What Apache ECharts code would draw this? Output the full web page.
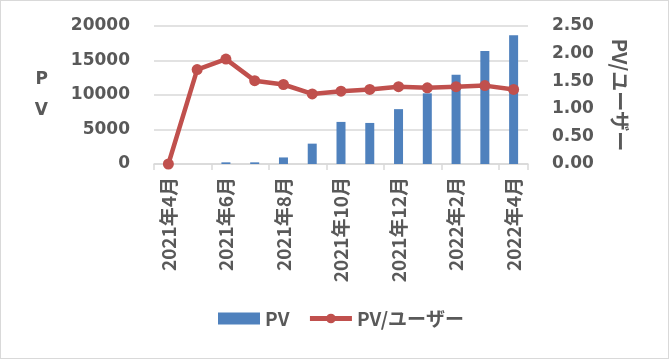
<!DOCTYPE html>
<html><head><meta charset="utf-8">
<script src="https://cdn.jsdelivr.net/npm/echarts@6/dist/echarts.min.js"></script>
<style>html,body{margin:0;padding:0;background:#fff}#c{width:669px;height:359px;box-sizing:border-box;border:1px solid #d9d9d9}</style>
</head><body><div id="c"></div>
<script>
const categories = ['2021年4月','2021年5月','2021年6月','2021年7月','2021年8月','2021年9月','2021年10月','2021年11月','2021年12月','2022年1月','2022年2月','2022年3月','2022年4月'];
const pvValues = [0, 0, 240, 240, 950, 2950, 6100, 5950, 7950, 10240, 12950, 16380, 18670];
const pvPerUser = [0, 1.71, 1.90, 1.51, 1.44, 1.27, 1.32, 1.35, 1.40, 1.38, 1.40, 1.42, 1.35];
const leftTicks = [0, 5000, 10000, 15000, 20000];
const rightTicks = [0, 0.5, 1, 1.5, 2, 2.5];

const txt = '#595959';
const cjk = '"Noto Sans CJK JP", "Noto Sans", sans-serif';
const num = '"DejaVu Sans", "Noto Sans CJK JP", sans-serif';
const chart = echarts.init(document.getElementById('c'));
chart.setOption({
  animation: false,
  textStyle: {fontFamily: cjk},
  grid: {left: 153, right: 140, top: 25, bottom: 194},
  legend: {
    bottom: 25, left: 212, itemGap: 18, itemWidth: 42, itemHeight: 12,
    textStyle: {color: txt, fontSize: 19, fontWeight: 'bold', fontFamily: cjk},
    data: [{name: 'PV', icon: 'rect'}, {name: 'PV/ユーザー', lineStyle: {width: 5}}]
  },
  xAxis: {
    type: 'category', data: categories, boundaryGap: true,
    axisLine: {lineStyle: {color: '#d9d9d9', width: 1.5}},
    axisTick: {show: true, interval: 1, length: 6, lineStyle: {color: '#d9d9d9', width: 1.5}},
    axisLabel: {interval: 1, rotate: 90, color: txt, fontSize: 19, fontWeight: 'bold', margin: 13, fontFamily: cjk}
  },
  yAxis: [{
    type: 'value', min: leftTicks[0], max: leftTicks[leftTicks.length-1], interval: 5000,
    name: 'P\nV', nameLocation: 'middle', nameRotate: 0, nameGap: 106,
    nameTextStyle: {color: txt, fontSize: 17, fontWeight: 'bold', lineHeight: 31, fontFamily: num, padding: [7, 0, 0, 0]},
    axisLine: {show: false}, axisTick: {show: false},
    axisLabel: {color: txt, fontSize: 17, fontWeight: 'bold', margin: 24, fontFamily: num, formatter: v => String(v)},
    splitLine: {lineStyle: {color: '#d9d9d9', width: 1.5}}
  }, {
    type: 'value', min: rightTicks[0], max: rightTicks[rightTicks.length-1], interval: 0.5,
    name: 'PV/ユーザー', nameLocation: 'middle', nameRotate: -90, nameGap: 82,
    nameTextStyle: {color: txt, fontSize: 20, fontWeight: 'bold', fontFamily: cjk},
    axisLine: {show: false}, axisTick: {show: false},
    axisLabel: {color: txt, fontSize: 17, fontWeight: 'bold', margin: 24, fontFamily: num, formatter: v => v.toFixed(2)},
    splitLine: {show: false}
  }],
  series: [{
    name: 'PV', type: 'bar', data: pvValues, barWidth: 9, yAxisIndex: 0,
    itemStyle: {color: '#4f81bd'}
  }, {
    name: 'PV/ユーザー', type: 'line', data: pvPerUser, yAxisIndex: 1,
    symbol: 'circle', symbolSize: 11,
    lineStyle: {color: '#c0504d', width: 4.5}, itemStyle: {color: '#c0504d'}
  }]
});
</script></body></html>
